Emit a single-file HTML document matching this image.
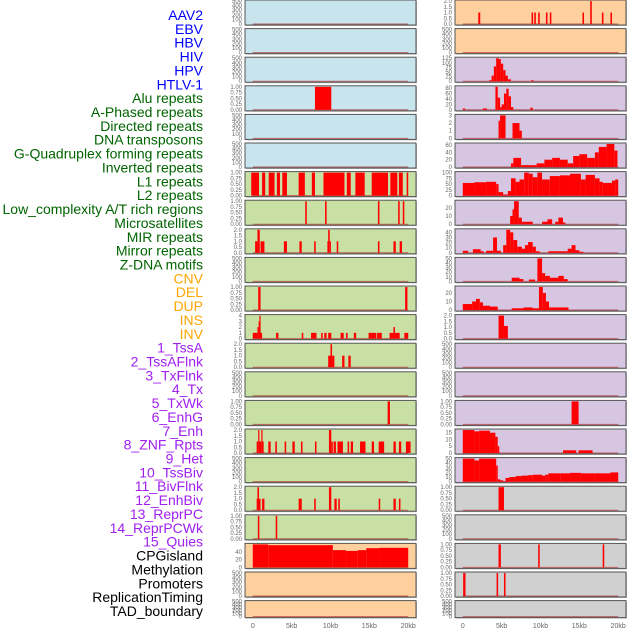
<!DOCTYPE html>
<html><head><meta charset="utf-8">
<style>
html,body{margin:0;padding:0;background:#fff;}
svg{display:block;font-family:"Liberation Sans",sans-serif;}
</style></head>
<body>
<svg id="chart" width="630" height="630" viewBox="0 0 630 630" xmlns="http://www.w3.org/2000/svg"></svg>
<script>
// ---- track labels ----
const labels = ["AAV2","EBV","HBV","HIV","HPV","HTLV-1","Alu repeats","A-Phased repeats","Directed repeats","DNA transposons","G-Quadruplex forming repeats","Inverted repeats","L1 repeats","L2 repeats","Low_complexity A/T rich regions","Microsatellites","MIR repeats","Mirror repeats","Z-DNA motifs","CNV","DEL","DUP","INS","INV","1_TssA","2_TssAFlnk","3_TxFlnk","4_Tx","5_TxWk","6_EnhG","7_Enh","8_ZNF_Rpts","9_Het","10_TssBiv","11_BivFlnk","12_EnhBiv","13_ReprPC","14_ReprPCWk","15_Quies","CPGisland","Methylation","Promoters","ReplicationTiming","TAD_boundary"];
const labelColors = ["#0000ff","#0000ff","#0000ff","#0000ff","#0000ff","#0000ff","#006400","#006400","#006400","#006400","#006400","#006400","#006400","#006400","#006400","#006400","#006400","#006400","#006400","#ffa500","#ffa500","#ffa500","#ffa500","#ffa500","#a020f0","#a020f0","#a020f0","#a020f0","#a020f0","#a020f0","#a020f0","#a020f0","#a020f0","#a020f0","#a020f0","#a020f0","#a020f0","#a020f0","#a020f0","#000","#000","#000","#000","#000"];
// ---- x axis ----
const xTicks = [0,5,10,15,20];
const xTickLabels = ["0","5kb","10kb","15kb","20kb"];
// ---- y tick sets ----
const tEmpty = [0,100,200,300,400,500];
const t1 = [0,0.25,0.5,0.75,1];
const t2 = [0,0.5,1,1.5,2];
// ---- series: [startKb, endKb, value] ----
const r1R = [[2.0,2.25,1],[8.85,9.05,1],[9.2,9.4,1],[9.7,9.9,1],[10.7,10.9,1],[11.2,11.4,1],[15.4,15.6,1],[16.4,16.6,2],[17.9,18.1,1],[19.0,19.2,1]];
const r3R = [[3.4,3.7,5],[3.7,4.0,30],[4.0,4.3,80],[4.3,4.6,125],[4.6,4.9,120],[4.9,5.2,95],[5.2,5.5,60],[5.5,5.8,30],[5.8,6.2,10],[8.8,9.1,5]];
const r4L = [[8.0,10.1,1]];
const r4R = [[0,0.3,5],[2.6,3.1,5],[4.2,4.5,85],[4.5,4.8,45],[4.8,5.0,10],[5.0,5.3,20],[5.3,5.6,60],[5.6,5.9,78],[5.9,6.2,50],[6.2,6.5,10],[8.7,9.0,8]];
const r5R = [[4.6,4.8,2.3],[4.8,5.5,3],[6.4,7.3,2],[7.3,7.6,1]];
const r6R = [[6.2,6.5,10],[6.5,7.5,25],[7.5,8.5,5],[8.5,9.5,5],[9.5,10.5,10],[10.5,11.5,20],[11.5,12.5,25],[12.5,13.5,20],[13.5,14.2,10],[14.2,15,30],[15,16,35],[16,17,25],[17,17.5,40],[17.5,18.5,55],[18.5,19.5,63],[19.5,19.9,45]];
const r7L = [[-0.2,0.8,1],[1.2,1.6,1],[2.05,2.8,1],[3.1,3.5,1],[3.8,4.4,1],[5.9,6.7,1],[7.6,8.0,1],[9.1,11.8,1],[12.1,12.6,1],[13.2,14.4,1],[15.3,17.4,1],[17.7,18.6,1],[18.8,19.3,1],[19.8,20.0,1]];
const r7R = [[0,1.5,55],[1.5,3,58],[3,4.3,60],[4.3,4.6,50],[4.6,5.2,15],[5.2,5.8,5],[5.8,6.2,20],[6.2,6.8,75],[6.8,7.3,60],[7.3,7.9,70],[7.9,8.5,100],[8.5,9,95],[9,9.6,80],[9.6,10.2,100],[10.2,11.2,70],[11.2,12.5,85],[12.5,13.8,88],[13.8,15.2,95],[15.2,15.8,70],[15.8,17,90],[17,17.6,75],[17.6,18,60],[18,19.2,55],[19.2,19.6,65],[19.6,20,70]];
const r8L = [[6.75,6.95,1],[9.3,9.5,1],[16.1,16.3,1],[18.7,18.9,1],[19.3,19.5,1]];
const r8R = [[6.1,6.4,10],[6.4,6.6,18],[6.6,7.2,28],[7.2,7.6,8],[7.6,9.0,3],[10.2,10.9,3],[10.9,11.5,6],[11.9,12.3,3],[12.3,12.9,8],[12.9,13.2,2]];
const r9L = [[0.3,0.6,1],[0.6,0.9,2],[1.0,1.5,1],[4.0,4.4,1],[6.0,6.3,1],[7.9,8.1,1],[9.6,9.7,1],[9.7,9.9,2],[9.9,10.0,1],[10.8,11.0,1],[16.1,16.3,1],[18.1,18.4,1],[18.9,19.2,1]];
const r9R = [[0,0.7,4],[1.3,2.3,7],[2.3,2.7,3],[3.0,3.9,4],[3.9,4.4,30],[4.4,4.9,4],[5.2,5.6,15],[5.6,6.1,45],[6.1,6.5,40],[6.5,7.0,25],[7.0,7.6,12],[7.6,8.0,8],[8.0,8.4,15],[8.4,9.0,21],[9.0,9.4,12],[9.4,9.9,3],[11.0,13.5,3],[13.5,14.0,8],[14.0,14.5,15],[14.5,15.0,5],[15.0,15.5,2]];
const r10R = [[6.3,7.3,8],[7.3,7.8,5],[8.5,9.3,4],[9.6,10.2,50],[10.2,10.6,18],[10.6,11.2,12],[11.2,12.3,8],[12.3,13.0,12],[13.0,13.5,5]];
const r11L = [[0.7,1.0,1],[19.6,19.9,1]];
const r11R = [[0,1.2,7],[1.2,1.7,10],[1.7,2.2,13],[2.2,2.6,9],[2.6,3.5,5],[3.5,4.5,4],[6.3,7.8,2],[7.8,9.0,3],[9.0,9.8,2],[9.8,10.3,27],[10.3,10.7,20],[10.7,11.1,10],[11.1,13.6,3]];
const r12L = [[0,0.6,1],[0.6,0.75,2],[0.75,0.85,3],[0.85,0.95,4],[0.95,1.2,1],[3.0,3.3,1],[6.3,6.5,1],[7.5,8.2,1],[8.8,9.0,1],[9.2,9.5,1],[9.7,10.1,1],[11.3,11.7,1],[12.0,12.2,1],[13.0,13.3,1],[14.9,15.9,1],[16.0,16.6,1],[17.6,18.1,1],[18.1,18.3,2],[18.3,18.9,1],[19.5,20.0,1]];
const r12R = [[4.6,5.3,2],[5.3,5.8,1.1]];
const r13L = [[9.7,10.0,1],[10.0,10.2,2],[10.2,10.5,1],[11.5,11.8,1],[12.3,12.6,1]];
const r15L = [[17.35,17.65,1]];
const r15R = [[14.0,14.9,1]];
const r16L = [[0.5,0.7,1],[0.7,0.8,2],[0.8,1.1,1],[1.1,1.2,2],[1.2,1.4,1],[2.0,2.3,1],[2.9,3.1,1],[4.1,4.3,1],[5.1,5.4,1],[6.2,6.4,1],[8.0,8.2,1],[9.8,10.1,2],[10.1,10.3,1],[10.4,10.7,1],[10.9,11.6,1],[12.2,12.4,1],[12.6,12.9,1],[13.8,14.5,1],[15.3,15.6,1],[16.2,16.9,1],[18.1,18.4,1],[18.8,19.1,1],[19.7,20.3,1]];
const r16R = [[0,1.5,17],[1.5,2.1,16],[2.1,3.5,16.5],[3.5,4.2,15],[4.2,4.5,12],[4.5,4.7,5],[12.9,14.6,2],[14.9,16.7,2]];
const r17R = [[0,1.5,50],[1.5,2.1,46],[2.1,4.3,50],[4.3,4.5,35],[4.5,4.8,5],[4.8,5.2,3],[5.2,5.5,1],[5.5,6.0,8],[6.0,6.8,10],[6.8,7.6,12],[7.6,8.4,13],[8.4,9.0,14],[9.0,10.2,15],[10.2,10.6,13],[10.6,11.0,15],[11.0,12.6,18],[12.6,13.8,18],[13.8,15.2,19],[15.2,17.0,18],[17.0,19.0,18],[19.0,20.0,20]];
const r18L = [[0.5,0.6,1],[0.6,0.8,2],[0.8,1.0,1],[1.2,1.5,1],[5.9,6.3,1],[7.9,8.1,1],[9.8,10.1,2],[10.5,10.8,1],[11.0,11.2,1],[16.2,16.4,1],[18.1,18.4,1],[18.8,19.0,1]];
const r18R = [[4.6,5.3,1]];
const r19L = [[0.65,0.85,1],[2.95,3.15,1]];
const r20L = [[0,2,60],[2,10.3,58],[10.3,12.0,45],[12.0,13.5,43],[13.5,14.6,45],[14.6,16.3,50],[16.3,20,51]];
const r20R = [[4.6,4.9,1],[9.7,9.9,1],[18.0,18.2,1]];
const r21R = [[0.05,0.35,1],[4.35,4.55,1],[5.3,5.5,1]];

const BLUE="#c8e4ec",ORANGE="#fdd09e",PURPLE="#d6c6e2",GREEN="#c9e0a5",GRAY="#d0d0d0";
// [bg, ticks, ymax, bars]
const leftPanels = [
 [BLUE,tEmpty,500,[]],[BLUE,tEmpty,500,[]],[BLUE,tEmpty,500,[]],[BLUE,t1,1,r4L],[BLUE,tEmpty,500,[]],[BLUE,tEmpty,500,[]],
 [GREEN,t1,1,r7L],[GREEN,t1,1,r8L],[GREEN,t2,2,r9L],[GREEN,tEmpty,500,[]],[GREEN,t1,1,r11L],[GREEN,[0,1,2,3,4],4,r12L],
 [GREEN,t2,2,r13L],[GREEN,tEmpty,500,[]],[GREEN,t1,1,r15L],[GREEN,t2,2,r16L],[GREEN,tEmpty,500,[]],[GREEN,t2,2,r18L],[GREEN,t1,1,r19L],
 [ORANGE,[0,20,40],60,r20L],[ORANGE,tEmpty,500,[]],[ORANGE,tEmpty,500,[]]];
const rightPanels = [
 [ORANGE,t2,2,r1R],[ORANGE,tEmpty,500,[]],[PURPLE,[0,25,50,75,100,125],125,r3R],[PURPLE,[0,20,40,60,80],85,r4R],[PURPLE,[0,1,2,3],3,r5R],[PURPLE,[0,20,40,60],63,r6R],
 [PURPLE,[0,25,50,75,100],100,r7R],[PURPLE,[0,10,20],28,r8R],[PURPLE,[0,10,20,30,40],45,r9R],[PURPLE,[0,10,20,30,40,50],50,r10R],[PURPLE,[0,10,20],27,r11R],[PURPLE,t2,2,r12R],
 [PURPLE,tEmpty,500,[]],[PURPLE,tEmpty,500,[]],[PURPLE,t1,1,r15R],[PURPLE,[0,5,10,15],17,r16R],[PURPLE,[0,10,20,30,40,50],50,r17R],[GRAY,t1,1,r18R],[GRAY,tEmpty,500,[]],
 [GRAY,t1,1,r20R],[GRAY,t1,1,r21R],[GRAY,tEmpty,500,[]]];

const NS="http://www.w3.org/2000/svg";
const svg=document.getElementById("chart");
function mk(tag,attrs,parent){const e=document.createElementNS(NS,tag);for(const k in attrs)e.setAttribute(k,attrs[k]);(parent||svg).appendChild(e);return e;}
const PW=171, colX=[245,455];
function xScale(col,kb){return colX[col]+ (kb+1)*PW/22;}
function rowTop(i){return i*28.6;}
function rowH(i){return i===21?17:25;}

// labels
labels.forEach((t,i)=>{
  const e=mk("text",{x:203,y:15+i*13.86+5,"text-anchor":"end","font-size":"14",fill:labelColors[i]});
  e.textContent=t;
  
  
});

function drawPanel(col,i,p){
  const [bg,ticks,ymax,bars]=p;
  const top=rowTop(i),h=rowH(i),x0=colX[col];
  const g=mk("g",{});
  
  
  mk("rect",{x:x0+1,y:top+1,width:PW,height:h,fill:"#bbb"},g);
  const bgr=mk("rect",{x:x0,y:top,width:PW,height:h,fill:bg,stroke:"#555","stroke-width":1},g);
  const y=v=>top+h-1-(v/ymax)*(h-2);
  ticks.forEach(t=>{
    const tx=mk("text",{x:x0-3,y:y(t)+2,"text-anchor":"end","font-size":"6",fill:"#666"},g);
    tx.textContent=String(t).replace(/^(\d)\.(\d)$/,"$1.$2");
    if(ymax<=1&&t!==0&&t!==1){}
    
    
  });
  if(ymax===1){ /* matplotlib style two-decimal labels */
    const txs=g.querySelectorAll("text");txs.forEach((tt,k)=>{tt.textContent=ticks[k].toFixed(2);});
  } else if(ymax===2&&ticks===t2){
    const txs=g.querySelectorAll("text");txs.forEach((tt,k)=>{tt.textContent=ticks[k].toFixed(1);});
  }
  mk("line",{x1:xScale(col,0),x2:xScale(col,20),y1:y(0),y2:y(0),stroke:"#b03030","stroke-width":1,opacity:0.7},g);
  bars.forEach(b=>{
    const xa=xScale(col,b[0]),xb=xScale(col,b[1]);
    const r=mk("rect",{x:xa,y:y(b[2]),width:Math.max(1.2,xb-xa),height:y(0)-y(b[2]),fill:"#ff0000"},g);
    
    
  });
}
leftPanels.forEach((p,i)=>drawPanel(0,i,p));
rightPanels.forEach((p,i)=>drawPanel(1,i,p));

// x axis labels
[0,1].forEach(col=>{
  xTicks.forEach((t,k)=>{
    const e=mk("text",{x:xScale(col,t),y:628,"text-anchor":"middle","font-size":"7",fill:"#666"});
    e.textContent=xTickLabels[k];
    
    
  });
});
</script>
</body></html>
